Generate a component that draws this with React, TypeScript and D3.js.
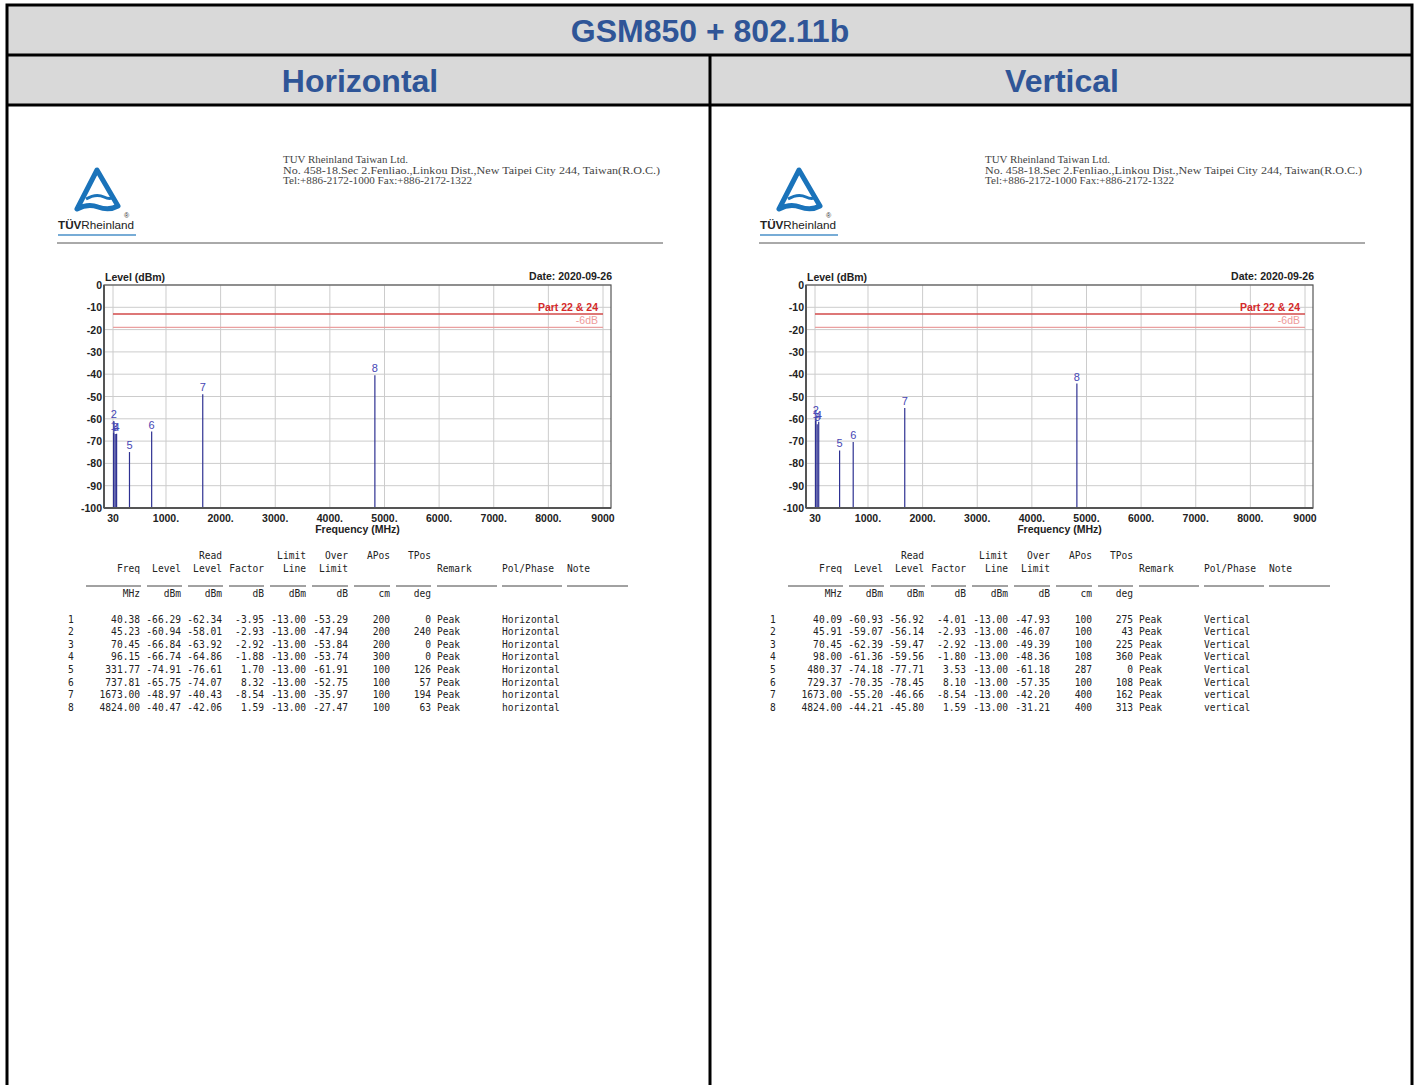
import React from "react";
import * as d3 from "d3";

// ---------- data ----------
const titleText = "GSM850 + 802.11b";
const panelTitles = ["Horizontal", "Vertical"];
const chartDate = "Date: 2020-09-26";
const limitValue = -13;
const limitMinus6 = -19;
const xTicks = [30, 1000, 2000, 3000, 4000, 5000, 6000, 7000, 8000, 9000];
const xTickLabels = ["30", "1000.", "2000.", "3000.", "4000.", "5000.", "6000.", "7000.", "8000.", "9000"];
const yTicks = [0, -10, -20, -30, -40, -50, -60, -70, -80, -90, -100];

const companyLines = [
  "TUV Rheinland Taiwan Ltd.",
  "No. 458-18.Sec 2.Fenliao.,Linkou Dist.,New Taipei City 244, Taiwan(R.O.C.)",
  "Tel:+886-2172-1000 Fax:+886-2172-1322",
];

const hFreq = [40.38, 45.23, 70.45, 96.15, 331.77, 737.81, 1673.0, 4824.0];
const hLevel = [-66.29, -60.94, -66.84, -66.74, -74.91, -65.75, -48.97, -40.47];
const hRead = [-62.34, -58.01, -63.92, -64.86, -76.61, -74.07, -40.43, -42.06];
const hFactor = [-3.95, -2.93, -2.92, -1.88, 1.7, 8.32, -8.54, 1.59];
const hOver = [-53.29, -47.94, -53.84, -53.74, -61.91, -52.75, -35.97, -27.47];
const hAPos = [200, 200, 200, 300, 100, 100, 100, 100];
const hTPos = [0, 240, 0, 0, 126, 57, 194, 63];
const hPol = ["Horizontal", "Horizontal", "Horizontal", "Horizontal", "Horizontal", "Horizontal", "horizontal", "horizontal"];

const vFreq = [40.09, 45.91, 70.45, 98.0, 480.37, 729.37, 1673.0, 4824.0];
const vLevel = [-60.93, -59.07, -62.39, -61.36, -74.18, -70.35, -55.2, -44.21];
const vRead = [-56.92, -56.14, -59.47, -59.56, -77.71, -78.45, -46.66, -45.8];
const vFactor = [-4.01, -2.93, -2.92, -1.8, 3.53, 8.1, -8.54, 1.59];
const vOver = [-47.93, -46.07, -49.39, -48.36, -61.18, -57.35, -42.2, -31.21];
const vAPos = [100, 100, 100, 108, 287, 100, 400, 400];
const vTPos = [275, 43, 225, 360, 0, 108, 162, 313];
const vPol = ["Vertical", "Vertical", "Vertical", "Vertical", "Vertical", "Vertical", "vertical", "vertical"];

const remark = "Peak";

// ---------- styles ----------
const SANS = "'Liberation Sans', Arial, sans-serif";
const MONO = "'DejaVu Sans Mono', 'Liberation Mono', monospace";
const SERIF = "'Liberation Serif', 'DejaVu Serif', serif";
const HEAD_BLUE = "#2f5597";
const SPIKE = "#2e3192";
const SPIKE_LABEL = "#4646b4";

type Panel = {
  freq: number[];
  level: number[];
  read: number[];
  factor: number[];
  over: number[];
  apos: number[];
  tpos: number[];
  pol: string[];
};

const panels: Panel[] = [
  { freq: hFreq, level: hLevel, read: hRead, factor: hFactor, over: hOver, apos: hAPos, tpos: hTPos, pol: hPol },
  { freq: vFreq, level: vLevel, read: vRead, factor: vFactor, over: vOver, apos: vAPos, tpos: vTPos, pol: vPol },
];

const PANEL_DX = 702;

function Logo() {
  return (
    <g>
      <path
        d="M97,170 L77,209 Q88,203 98,207 Q109,211 118,206 Z"
        fill="none"
        stroke="#1a73ba"
        strokeWidth={5}
        strokeLinejoin="round"
      />
      <path d="M86,199 Q96,193 104,197 Q110,200 114,197" fill="none" stroke="#1a73ba" strokeWidth={3} />
      <text x={58} y={229} fontFamily={SANS} fontSize={11} fill="#222" textLength={76} lengthAdjust="spacingAndGlyphs">
        <tspan fontWeight="bold">TÜV</tspan>
        <tspan>Rheinland</tspan>
      </text>
      <text x={124} y={218} fontFamily={SANS} fontSize={7} fill="#333">®</text>
      <line x1={58} x2={136} y1={235} y2={235} stroke="#4a90c8" strokeWidth={1.5} />
    </g>
  );
}

function Chart({ p }: { p: Panel }) {
  const left = 104, right = 611, top = 285, bottom = 508;
  const x = d3.scaleLinear().domain([30, 9000]).range([113, 603]);
  const y = d3.scaleLinear().domain([-100, 0]).range([bottom, top]);
  return (
    <g>
      {yTicks.map((t) => (
        <line key={"gy" + t} x1={left} x2={right} y1={y(t)} y2={y(t)} stroke="#cccccc" strokeWidth={1} />
      ))}
      {xTicks.map((t) => (
        <line key={"gx" + t} x1={x(t)} x2={x(t)} y1={top} y2={bottom} stroke="#cccccc" strokeWidth={1} />
      ))}
      {/* limit lines */}
      <line x1={x(30)} x2={x(9000)} y1={y(limitValue)} y2={y(limitValue)} stroke="#d24a4a" strokeWidth={1.6} />
      <line x1={x(30)} x2={x(9000)} y1={y(limitMinus6)} y2={y(limitMinus6)} stroke="#eaa0a0" strokeWidth={1.2} />
      <text x={598} y={y(limitValue) - 3} textAnchor="end" fontFamily={SANS} fontWeight="bold" fontSize={10.5} fill="#d42a2a">
        Part 22 &amp; 24
      </text>
      <text x={598} y={y(limitMinus6) - 3} textAnchor="end" fontFamily={SANS} fontSize={10.5} fill="#ee9a9a">
        -6dB
      </text>
      {/* spikes */}
      {p.freq.map((f, i) => (
        <line key={"s" + i} x1={x(f)} x2={x(f)} y1={bottom} y2={y(p.level[i])} stroke={SPIKE} strokeWidth={1.2} />
      ))}
      {p.freq.map((f, i) => (
        <text key={"sl" + i} x={x(f)} y={y(p.level[i]) - 3} textAnchor="middle" fontFamily={SANS} fontSize={11} fill={SPIKE_LABEL}>
          {i + 1}
        </text>
      ))}
      {/* frame */}
      <rect x={left} y={top} width={right - left} height={bottom - top} fill="none" stroke="#555" strokeWidth={1.2} />
      <line x1={left} x2={right} y1={bottom} y2={bottom} stroke="#555" strokeWidth={2} />
      <line x1={left} x2={left} y1={top} y2={bottom} stroke="#555" strokeWidth={2} />
      {/* tick labels */}
      {yTicks.map((t) => (
        <text key={"ly" + t} x={102} y={y(t) + 4} textAnchor="end" fontFamily={SANS} fontWeight="bold" fontSize={10.5} fill="#222">
          {t}
        </text>
      ))}
      {xTicks.map((t, i) => (
        <text key={"lx" + t} x={x(t)} y={522} textAnchor="middle" fontFamily={SANS} fontWeight="bold" fontSize={10.5} fill="#222">
          {xTickLabels[i]}
        </text>
      ))}
      <text x={(left + right) / 2} y={533} textAnchor="middle" fontFamily={SANS} fontWeight="bold" fontSize={10.5} fill="#222">
        Frequency (MHz)
      </text>
      <text x={105} y={281} fontFamily={SANS} fontWeight="bold" fontSize={10.5} fill="#222">
        Level (dBm)
      </text>
      <text x={612} y={280} textAnchor="end" fontFamily={SANS} fontWeight="bold" fontSize={10.5} fill="#222">
        {chartDate}
      </text>
    </g>
  );
}

const colRight = [140, 181, 222, 264, 306, 348, 390, 431];
const remarkX = 437;
const polX = 502;
const noteX = 567;
const underlines = [
  [86, 141], [147, 182], [188, 223], [229, 264], [270, 306], [312, 348],
  [354, 390], [396, 431], [437, 497], [502, 562], [567, 628],
];

function Table({ p }: { p: Panel }) {
  const fs = 9.6;
  const col = "#222";
  const t = (key: string, xx: number, yy: number, s: string, anchor = "end") => (
    <text key={key} x={xx} y={yy} textAnchor={anchor} fontFamily={MONO} fontSize={fs} fill={col} xmlSpace="preserve">
      {s}
    </text>
  );
  const h1 = 558.5, h2 = 571.5, u = 596.5;
  const rows = d3.range(p.freq.length);
  return (
    <g>
      {t("r1", colRight[2], h1, "Read")}
      {t("r2", colRight[4], h1, "Limit")}
      {t("r3", colRight[5], h1, "Over")}
      {t("r4", colRight[6], h1, "APos")}
      {t("r5", colRight[7], h1, "TPos")}
      {["Freq", "Level", "Level", "Factor", "Line", "Limit"].map((s, i) => t("h" + i, colRight[i], h2, s))}
      {t("rm", remarkX, h2, "Remark", "start")}
      {t("pp", polX, h2, "Pol/Phase", "start")}
      {t("nt", noteX, h2, "Note", "start")}
      {underlines.map(([a, b], i) => (
        <line key={"u" + i} x1={a} x2={b} y1={586} y2={586} stroke="#444" strokeWidth={1} />
      ))}
      {["MHz", "dBm", "dBm", "dB", "dBm", "dB", "cm", "deg"].map((s, i) => t("un" + i, colRight[i], u, s))}
      {rows.map((i) => {
        const yy = 622.5 + i * 12.6;
        const vals = [
          p.freq[i].toFixed(2),
          p.level[i].toFixed(2),
          p.read[i].toFixed(2),
          p.factor[i].toFixed(2),
          limitValue.toFixed(2),
          p.over[i].toFixed(2),
          String(p.apos[i]),
          String(p.tpos[i]),
        ];
        return (
          <g key={"row" + i}>
            {t("idx" + i, 68, yy, String(i + 1), "start")}
            {vals.map((v, j) => t("c" + i + "_" + j, colRight[j], yy, v))}
            {t("rk" + i, remarkX, yy, remark, "start")}
            {t("pl" + i, polX, yy, p.pol[i], "start")}
          </g>
        );
      })}
    </g>
  );
}

function Report({ p }: { p: Panel }) {
  return (
    <g>
      <Logo />
      {companyLines.map((s, i) => (
        <text
          key={"c" + i}
          x={283}
          y={163 + i * 10.5}
          fontFamily={SERIF}
          fontSize={10.5}
          fill="#444"
          textLength={[125, 377, 189][i]}
          lengthAdjust="spacingAndGlyphs"
        >
          {s}
        </text>
      ))}
      <line x1={57} x2={663} y1={243} y2={243} stroke="#555" strokeWidth={1} />
      <Chart p={p} />
      <Table p={p} />
    </g>
  );
}

export default function App() {
  const W = 1416, H = 1085;
  return (
    <div style={{ position: "absolute", left: 0, top: 0 }}>
      <svg width={W} height={H} viewBox={`0 0 ${W} ${H}`} style={{ display: "block" }}>
        <rect x={0} y={0} width={W} height={H} fill="#ffffff" />
        <rect x={7} y={5} width={1405} height={100} fill="#d9d9d9" />
        {panels.map((p, k) => (
          <g key={"panel" + k} transform={`translate(${k * PANEL_DX},0)`}>
            <Report p={p} />
          </g>
        ))}
        {/* grid borders */}
        <rect x={7} y={5} width={1405} height={1090} fill="none" stroke="#000" strokeWidth={3} />
        <line x1={7} x2={1412} y1={55} y2={55} stroke="#000" strokeWidth={3} />
        <line x1={7} x2={1412} y1={105} y2={105} stroke="#000" strokeWidth={3} />
        <line x1={710} x2={710} y1={55} y2={1090} stroke="#000" strokeWidth={3} />
        <text x={710} y={42} textAnchor="middle" fontFamily={SANS} fontWeight="bold" fontSize={32} fill={HEAD_BLUE}>
          {titleText}
        </text>
        {panelTitles.map((s, k) => (
          <text key={"pt" + k} x={360 + k * PANEL_DX} y={92} textAnchor="middle" fontFamily={SANS} fontWeight="bold" fontSize={32} fill={HEAD_BLUE}>
            {s}
          </text>
        ))}
      </svg>
    </div>
  );
}
